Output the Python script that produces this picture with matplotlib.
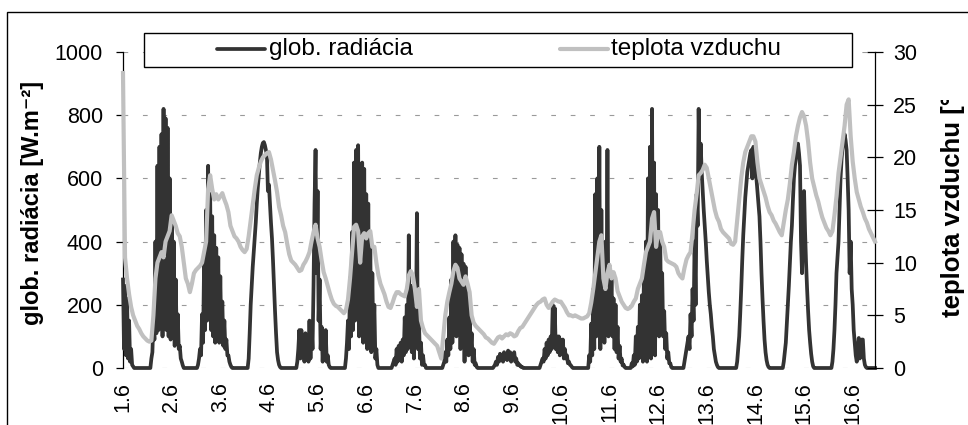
import matplotlib
matplotlib.use('Agg')
import matplotlib.pyplot as plt
from matplotlib.lines import Line2D
from matplotlib.patches import Rectangle
from matplotlib.transforms import Bbox, TransformedBbox

plt.rcParams['font.family'] = ['Liberation Sans', 'DejaVu Sans']
plt.rcParams['lines.scale_dashes'] = False

# ---------------- data ----------------
day_labels = ['1.6', '2.6', '3.6', '4.6', '5.6', '6.6', '7.6', '8.6',
              '9.6', '10.6', '11.6', '12.6', '13.6', '14.6', '15.6', '16.6']

series_names = ['glob. radiácia', 'teplota vzduchu']

# global radiation [W.m-2], one reading every half hour
radiation = [
    # 1.6 (end of day)
    280, 60, 260, 40, 220, 30, 150, 20, 60, 10, 5, 0,
    0, 0, 0, 0, 0, 0, 0, 0, 0, 0, 0, 0, 0, 0, 0, 0,
    # 2.6
    30, 50, 150, 90, 400, 110, 640, 120, 700, 130, 740, 100, 820, 150, 790, 120,
    760, 100, 600, 90, 460, 120, 400, 70, 280, 90, 170, 60, 70, 30, 20, 8, 0, 0,
    0, 0, 0, 0, 0, 0, 0, 0, 0, 0, 0, 0,
    # 3.6
    10, 30, 60, 40, 170, 80, 330, 120, 500, 150, 640, 200, 550, 120, 480, 100,
    420, 80, 380, 110, 350, 80, 290, 100, 210, 70, 150, 60, 90, 40, 40, 20, 10, 3, 0, 0,
    0, 0, 0, 0, 0, 0, 0, 0, 0, 0, 0, 0, 0, 0,
    # 4.6
    30, 110, 200, 260, 320, 367, 410, 460, 520, 570, 610, 650, 680, 700, 712, 715,
    705, 690, 674, 560, 580, 520, 460, 410, 340, 260, 180, 110, 50, 25, 10, 3, 0, 0,
    0, 0, 0, 0, 0, 0, 0, 0, 0, 0, 0, 0, 0, 0,
    # 5.6
    20, 60, 120, 30, 120, 50, 100, 20, 110, 40, 80, 20, 150, 30, 140, 60,
    260, 520, 690, 300, 560, 150, 280, 60, 130, 20, 100, 30, 120, 20, 40, 10, 3, 0, 0, 0,
    0, 0, 0, 0, 0, 0, 0, 0, 0, 0, 0, 0,
    # 6.6
    30, 80, 150, 60, 285, 100, 430, 120, 650, 150, 690, 200, 705, 100, 600, 150,
    650, 80, 630, 120, 550, 60, 520, 100, 380, 50, 300, 80, 200, 30, 60, 10, 0, 0,
    0, 0, 0, 0, 0, 0, 0, 0, 0, 0, 0, 0,
    # 7.6
    10, 20, 30, 10, 60, 20, 70, 30, 80, 20, 90, 40, 160, 50, 200, 60,
    420, 80, 260, 50, 240, 30, 200, 100, 490, 60, 150, 30, 80, 10, 40, 10, 10, 0, 0, 0,
    0, 0, 0, 0, 0, 0, 0, 0, 0, 0, 0, 0, 0, 0,
    # 8.6
    10, 20, 50, 20, 90, 40, 160, 60, 280, 80, 400, 120, 420, 100, 390, 150,
    380, 60, 360, 100, 330, 20, 320, 80, 260, 40, 200, 50, 110, 20, 60, 10, 15, 3, 0, 0,
    0, 0, 0, 0, 0, 0, 0, 0, 0, 0, 0, 0, 0, 0,
    # 9.6
    5, 10, 20, 10, 35, 20, 45, 25, 40, 20, 50, 30, 45, 25, 55, 30,
    50, 20, 40, 30, 50, 20, 30, 10, 15, 8, 8, 3, 3, 0, 0, 0,
    0, 0, 0, 0, 0, 0, 0, 0, 0, 0, 0, 0, 0, 0,
    # 10.6
    10, 20, 30, 20, 60, 30, 80, 40, 90, 50, 100, 60, 200, 80, 190, 60,
    100, 50, 100, 40, 90, 50, 90, 30, 60, 30, 40, 15, 20, 10, 8, 3, 0, 0,
    0, 0, 0, 0, 0, 0, 0, 0, 0, 0, 0, 0, 0, 0,
    # 11.6
    40, 20, 140, 40, 250, 60, 550, 100, 600, 150, 700, 60, 500, 120, 350, 80,
    400, 150, 690, 100, 300, 150, 290, 100, 220, 60, 200, 50, 130, 30, 70, 20,
    30, 8, 10, 3, 0, 0,
    0, 0, 0, 0,
    # 12.6
    15, 5, 40, 10, 100, 20, 130, 30, 200, 40, 230, 20, 300, 60, 400, 20,
    600, 80, 700, 30, 820, 100, 650, 40, 550, 120, 500, 100, 420, 150, 300, 100,
    180, 60, 110, 30, 50, 15, 15, 3, 0, 0,
    0, 0, 0, 0, 0, 0, 0, 0, 0, 0,
    # 13.6
    20, 40, 60, 80, 100, 60, 170, 100, 250, 150, 400, 200, 550, 450, 820, 600,
    710, 620, 560, 500, 450, 400, 340, 290, 240, 200, 170, 130, 100, 60, 40, 20, 10, 3, 0, 0,
    0, 0, 0, 0, 0, 0, 0, 0, 0, 0, 0, 0, 0, 0, 0, 0,
    # 14.6
    20, 60, 100, 170, 250, 340, 420, 480, 540, 580, 620, 640, 660, 680, 690, 600,
    700, 680, 640, 600, 560, 520, 480, 400, 300, 220, 150, 90, 50, 25, 10, 3, 0, 0,
    0, 0, 0, 0, 0, 0, 0, 0, 0, 0, 0, 0,
    # 15.6
    20, 50, 80, 140, 200, 260, 330, 400, 450, 530, 600, 640, 670, 690, 710, 680,
    640, 400, 300, 450, 560, 430, 330, 250, 180, 120, 80, 45, 20, 5, 0, 0,
    0, 0, 0, 0, 0, 0, 0, 0, 0, 0, 0, 0, 0, 0, 0, 0,
    # 16.6
    20, 60, 120, 200, 300, 350, 400, 500, 600, 660, 700, 720, 740, 720, 690, 600,
    500, 300, 400, 250, 200, 120, 80, 40, 20, 60, 95, 30, 40, 90, 90, 30, 10, 3, 0, 0,
    0, 0, 0, 0, 0, 0, 0,
]

# air temperature [°C], one reading every hour
temperature = [
    28, 10.5, 8.5, 7, 5.8, 5, 4.5, 4, 3.7, 3.3,
    3.0, 2.8, 2.6, 2.5, 2.6, 5, 8.5, 10, 10.5, 11,
    10.5, 12, 12.5, 13, 14.5, 14, 13.5, 12.8, 12.5, 11.5,
    10, 8.5, 8, 7.2, 8, 9, 9.3, 9.5, 9.7, 10,
    11, 12, 17, 18.3, 17, 16, 16.5, 16, 16.3, 16.6,
    16, 15.5, 14.8, 13.5, 13, 12.5, 12.3, 12, 11.5, 11.2,
    11, 11.3, 12.5, 14, 15.5, 17, 18.3, 19, 19.6, 20,
    20.2, 20.4, 20.5, 19.8, 18.8, 17.8, 16.7, 15.3, 14.5, 13.5,
    12.9, 11.8, 10.8, 10.2, 10, 9.8, 9.5, 9.2, 9.3, 9.8,
    10.1, 10.5, 11, 12, 12.9, 13.6, 12.3, 11.5, 10.2, 9.1,
    8.5, 7.8, 7.1, 6.5, 6.1, 5.9, 5.8, 5.6, 5.4, 5.2,
    5.5, 6.5, 8.5, 11, 13.4, 13.6, 13, 10, 12.5, 12.8,
    12.3, 12.8, 13, 11.5, 11.5, 10, 8.8, 8, 7.5, 7,
    6.3, 5.8, 5.7, 6.2, 6.8, 7.2, 7.2, 7, 6.9, 6.8,
    7.5, 8.8, 9.2, 8.8, 7.5, 5.8, 7.5, 4.5, 3.8, 3.3,
    3.1, 2.9, 2.7, 2.5, 2.3, 2.1, 1.5, 0.9, 3, 5,
    6.3, 7.2, 8, 9.2, 9.8, 9.5, 8.5, 8.2, 7.9, 8.7,
    8, 7.2, 5, 4.3, 4, 3.8, 3.6, 3.4, 3.2, 2.9,
    2.8, 2.6, 2.4, 2.3, 2.6, 2.9, 3.0, 2.8, 3.0, 3.2,
    3.1, 3.3, 3.2, 3.0, 3.1, 3.5, 3.8, 3.9, 4.2, 4.5,
    4.8, 5.1, 5.4, 5.7, 6, 6.2, 6.3, 6.5, 6.6, 6,
    5.7, 6, 6.3, 6.5, 6.4, 6.3, 6.3, 6, 5.7, 5.3,
    5, 5, 4.9, 5, 4.9, 4.8, 4.7, 4.7, 4.8, 4.9,
    5.2, 6.2, 7.5, 9, 10.5, 12, 12.6, 8.5, 7.5, 9,
    9.8, 8.5, 9.1, 8.5, 7.3, 6.8, 6.3, 6, 5.7, 5.6,
    5.7, 5.9, 6.3, 6.6, 7.5, 8, 8.5, 9.8, 11, 11.5,
    12, 14.2, 14.8, 11.5, 12.9, 12.9, 12, 11.5, 10.3, 10.1,
    10, 9.9, 9.8, 9.6, 9, 8.7, 8.5, 9.5, 10.3, 10.7,
    11, 12.9, 15, 16.5, 18.3, 18.5, 18.8, 19.3, 19, 18,
    17, 16, 15, 14.3, 13.9, 13.2, 12.9, 12.7, 12.5, 12.3,
    11.8, 11.7, 12, 14, 16, 18, 19.5, 20.5, 21, 21.5,
    22, 22, 21.5, 19.5, 18, 17.4, 16.8, 16.2, 15.4, 14.8,
    14.5, 14, 13.7, 13.3, 12.9, 12.6, 13.8, 15, 16, 17.5,
    19.3, 20.5, 22, 23, 23.8, 24.3, 23.9, 23, 21.5, 19.5,
    18, 17.2, 16.4, 15.8, 15, 14.3, 13.8, 13.3, 13, 12.6,
    13, 14.5, 16.3, 18.5, 20, 21.5, 23, 25, 25.5, 22,
    19.6, 18, 16.7, 16, 15.3, 14.8, 14.2, 13.8, 13.2, 12.8,
    12.4, 12,
]

rad_ticks = [0, 200, 400, 600, 800, 1000]
temp_ticks = [0, 5, 10, 15, 20, 25, 30]

rad_hours = [i / 2 for i in range(len(radiation))]
temp_hours = list(range(len(temperature)))
label_pos = [24 * i for i in range(len(day_labels))]

# ---------------- styling ----------------
C_RAD = '#333333'
C_TEMP = '#c0c0c0'
W, H = 968, 425


def fx(px):
    return px / W


def fy(py):
    return (H - py) / H


fig = plt.figure(figsize=(W / 100, H / 100), dpi=100)
fig.patch.set_facecolor('white')

# outer chart-area border (runs off right/bottom edges as in the reference)
fig.add_artist(Rectangle((fx(7), -0.2), 1.5, fy(12) + 0.2, transform=fig.transFigure,
                         fill=False, edgecolor='black', linewidth=1.0, zorder=0))

ax = fig.add_axes([fx(123), fy(368), fx(875) - fx(123), fy(52) - fy(368)])
ax2 = ax.twinx()
ax.set_facecolor('none')

ax.plot(rad_hours, radiation, color=C_RAD, linewidth=2.7, solid_joinstyle='round',
        clip_on=False, zorder=3)
ax2.plot(temp_hours, temperature, color=C_TEMP, linewidth=3.0, solid_joinstyle='round',
         clip_on=False, zorder=3)

ax.set_xlim(0, 371)
ax.set_ylim(0, 1000)
ax2.set_ylim(0, 30)

ax.set_yticks(rad_ticks)
ax.set_yticklabels([str(v) for v in rad_ticks])
ax2.set_yticks(temp_ticks)
ax2.set_yticklabels([str(v) for v in temp_ticks])
ax.set_xticks(label_pos)
ax.set_xticklabels(day_labels, rotation=90, va='top', ha='center')

ax.yaxis.grid(True, linestyle=(0, (3.4, 10.6)), color='#9a9a9a', linewidth=0.8)
ax.set_axisbelow(True)

for a in (ax, ax2):
    a.spines['top'].set_visible(False)
    a.spines['bottom'].set_visible(False)
ax.spines['right'].set_visible(False)
ax2.spines['left'].set_visible(False)
ax.spines['left'].set_linewidth(0.9)
ax2.spines['right'].set_linewidth(0.9)

ax.tick_params(axis='y', direction='out', length=5, width=0.9, pad=9.5, labelsize=15.5)
ax.tick_params(axis='x', length=0, pad=10, labelsize=15.5)
ax2.tick_params(axis='y', direction='inout', length=12, width=0.9, pad=7, labelsize=15.5)

# axis titles (the reference clips the right one at its top)
fig.text(fx(33), fy(325), 'glob. radiácia [W.m\u207b\u00b2]', rotation=90,
         ha='center', va='bottom', fontsize=17, fontweight='bold')
t2 = fig.text(fx(953), fy(317), 'teplota vzduchu [°C]', rotation=90,
              ha='center', va='bottom', fontsize=18.5, fontweight='bold')
t2.set_clip_box(TransformedBbox(Bbox.from_extents(0.9, 0.0, 1.0, fy(100)), fig.transFigure))
t2.set_clip_on(True)

# legend drawn as a framed box with two centred entries
fig.add_artist(Rectangle((fx(144), fy(67)), fx(852) - fx(144), fy(33) - fy(67),
                         transform=fig.transFigure, facecolor='white',
                         edgecolor='black', linewidth=1.0, zorder=10))
ly = fy(49)
fig.add_artist(Line2D([fx(217), fx(265)], [ly, ly], transform=fig.transFigure,
                      color=C_RAD, linewidth=2.7, solid_capstyle='round', zorder=11))
fig.text(fx(269), ly, series_names[0], ha='left', va='center', fontsize=17.5, zorder=11)
fig.add_artist(Line2D([fx(560), fx(608)], [ly, ly], transform=fig.transFigure,
                      color=C_TEMP, linewidth=3.0, solid_capstyle='round', zorder=11))
fig.text(fx(611), ly, series_names[1], ha='left', va='center', fontsize=17.5, zorder=11)

fig.savefig('out.png', dpi=100, facecolor='white')
